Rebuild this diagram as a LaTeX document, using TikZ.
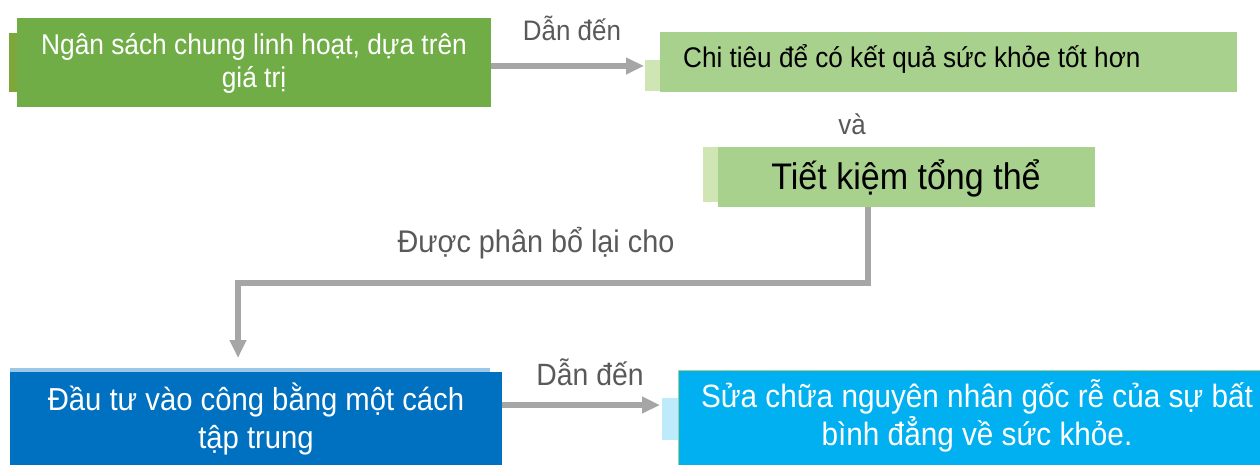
\documentclass[tikz,border=0pt]{standalone}
\usepackage{fontspec}
\setmainfont[FakeStretch=0.92]{Liberation Sans}
\usetikzlibrary{arrows.meta}
\definecolor{gdark}{HTML}{70AD47}
\definecolor{gstrip}{HTML}{7DA73A}
\definecolor{glight}{HTML}{A9D18E}
\definecolor{glstrip}{HTML}{CFE5B3}
\definecolor{bdark}{HTML}{0070C0}
\definecolor{bdstrip}{HTML}{9CC8E8}
\definecolor{bcyan}{HTML}{00B0F0}
\definecolor{bcstrip}{HTML}{BDEBFB}
\definecolor{arrowgray}{HTML}{A6A6A6}
\definecolor{labelgray}{HTML}{595959}
\begin{document}
\begin{tikzpicture}[x=1pt,y=-1pt,
  box/.style={inner sep=0pt, outer sep=0pt, anchor=north west},
  txt/.style={inner sep=0pt, align=center},
  lbl/.style={inner sep=0pt, text=labelgray},
  conn/.style={draw=arrowgray, line width=5.5pt, -{Triangle[length=18pt,width=16pt]}}
]
\useasboundingbox (0,0) rectangle (1260,465);
% strips behind boxes
\fill[gstrip] (9,33) rectangle (17,92);
\fill[glstrip] (645,60) rectangle (660,91);
\fill[glstrip] (703,147) rectangle (718,202);
\fill[bdstrip] (10,368) rectangle (490,372);
\fill[bcstrip] (662,398) rectangle (678,440);
% boxes
\node[box, fill=gdark, minimum width=474pt, minimum height=89pt] (b1) at (17,18) {};
\node[box, fill=glight, minimum width=577pt, minimum height=60pt] (b2) at (660,32) {};
\node[box, fill=glight, minimum width=377pt, minimum height=60pt] (b3) at (718,147) {};
\node[box, fill=bdark, minimum width=492pt, minimum height=95pt] (b4) at (10,372) {};
\node[box, fill=bcyan, draw=glight, line width=1pt, minimum width=584pt, minimum height=98pt] (b5) at (678,370) {};
% texts
\node[txt, text=white, font=\fontsize{28.6}{33}\selectfont] (t1) at (254,63) {Ngân sách chung linh hoạt, dựa trên\\giá trị};
\node[txt, text=black, font=\fontsize{28.4}{30}\selectfont, anchor=west] (t2) at (683,59) {Chi tiêu để có kết quả sức khỏe tốt hơn};
\node[txt, text=black, font=\fontsize{37}{40}\selectfont] (t3) at (906,178) {Tiết kiệm tổng thể};
\node[txt, text=white, font=\fontsize{31.8}{38}\selectfont] (t4) at (256,419) {Đầu tư vào công bằng một cách\\tập trung};
\node[txt, text=white, font=\fontsize{32.3}{38}\selectfont] (t5) at (977,416) {Sửa chữa nguyên nhân gốc rễ của sự bất\\bình đẳng về sức khỏe.};
% labels
\node[lbl, font=\fontsize{28.2}{30}\selectfont] (l1) at (572,28) {Dẫn đến};
\node[lbl, font=\fontsize{28.2}{30}\selectfont] (l2) at (852,124) {và};
\node[lbl, font=\fontsize{31.3}{32}\selectfont] (l3) at (536,243) {Được phân bổ lại cho};
\node[lbl, font=\fontsize{30.8}{32}\selectfont] (l4) at (590,372) {Dẫn đến};
% connector coordinates
\coordinate (a1s) at (491,66);
\coordinate (a1e) at (644,66);
\coordinate (a2s) at (868,207);
\coordinate (a2m1) at (868,283);
\coordinate (a2m2) at (238,283);
\coordinate (a2e) at (238,358);
\coordinate (a3s) at (502,405);
\coordinate (a3e) at (660,405);
% connectors
\draw[conn] (a1s) -- (a1e);
\draw[conn] (a2s) -- (a2m1) -- (a2m2) -- (a2e);
\draw[conn] (a3s) -- (a3e);
\end{tikzpicture}
\end{document}
